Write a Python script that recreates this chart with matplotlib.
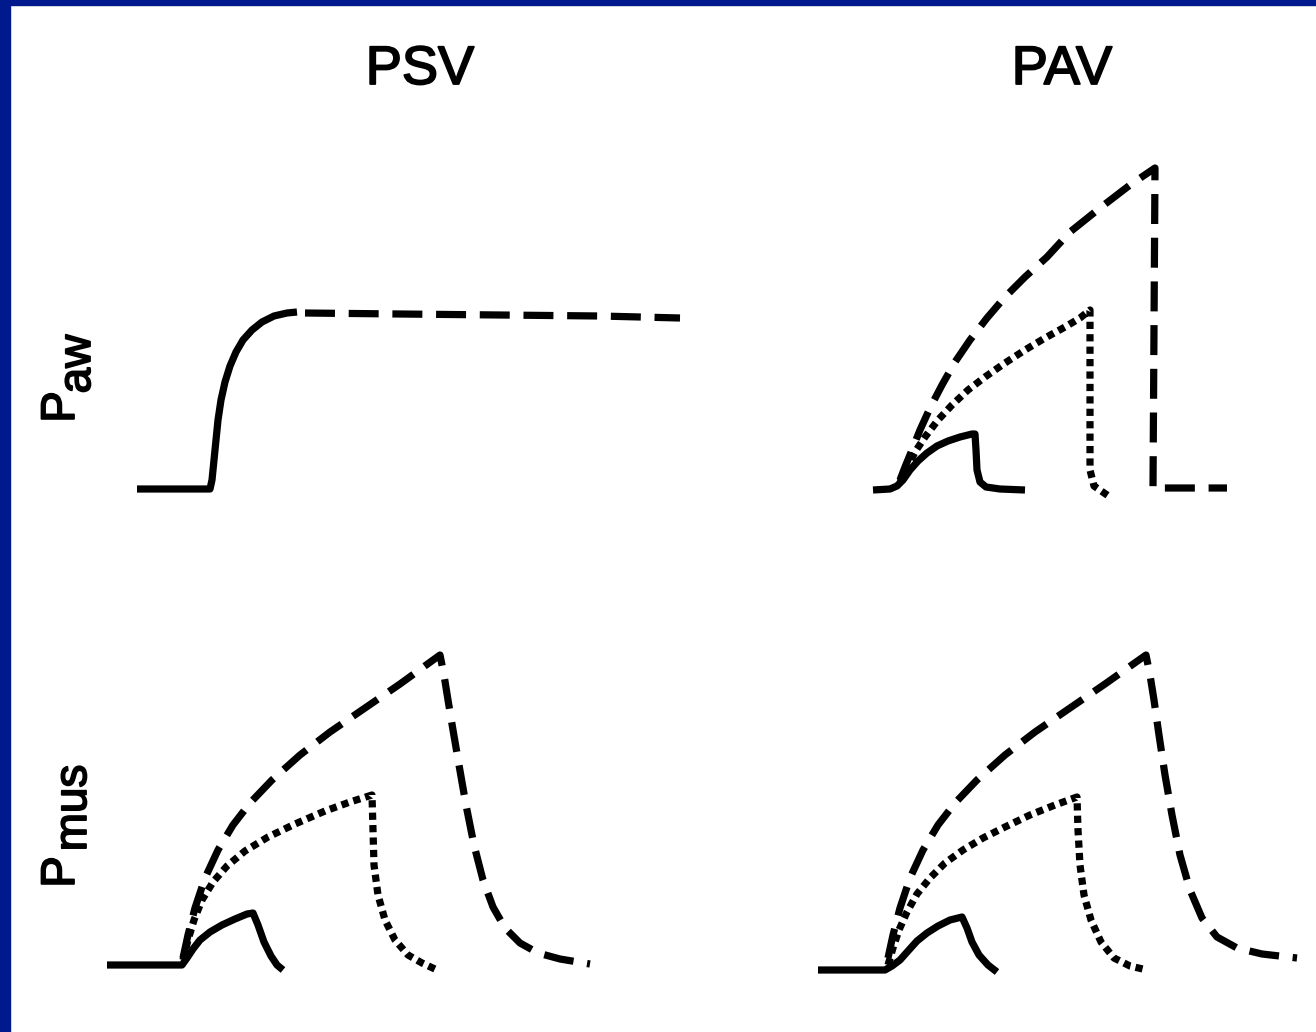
import matplotlib
matplotlib.use('Agg')
import matplotlib.pyplot as plt
import matplotlib.patheffects as pe
from matplotlib.patches import Rectangle

W, H = 1316, 1032

# waveforms: (time, pressure) in arbitrary units, baseline pressure = 0
psv_paw_solid_t = [37, 110, 112, 114, 116, 118, 121, 125, 130, 136, 143, 152, 162, 174, 187, 197]
psv_paw_solid_p = [1, 1, 10, 30, 50, 70, 90, 108, 124, 138, 150, 160, 168, 174, 177, 178]
psv_paw_dash_t = [205, 300, 400, 500, 580]
psv_paw_dash_p = [177, 176, 175, 174, 172]

pav_paw_solid_t = [93, 110, 117, 123, 130, 138, 147, 157, 168, 180, 192, 195, 196, 197, 200, 206, 220, 245]
pav_paw_solid_p = [0, 1, 4, 10, 20, 29, 37, 44, 49, 53, 56, 56, 40, 20, 8, 3, 1, 0]
pav_paw_dot_t = [120, 127, 135, 145, 158, 172, 188, 205, 225, 245, 265, 285, 300, 310, 310, 314, 330]
pav_paw_dot_p = [8, 22, 38, 53, 70, 85, 100, 113, 127, 140, 152, 163, 172, 180, 20, 4, -7]
pav_paw_dash_t = [120, 125, 132, 140, 150, 162, 175, 190, 207, 225, 245, 267, 290, 320, 350, 375, 373, 447]
pav_paw_dash_p = [10, 23, 40, 60, 82, 105, 128, 150, 172, 193, 213, 233, 258, 282, 305, 322, 2, 2]

psv_pmus_solid_t = [7, 82, 87, 93, 100, 110, 122, 135, 147, 153, 158, 164, 171, 177, 183]
psv_pmus_solid_p = [5, 5, 12, 21, 30, 38, 45, 51, 56, 57, 45, 28, 14, 5, 0]
psv_pmus_dot_t = [83, 88, 94, 102, 113, 127, 145, 168, 195, 225, 250, 272,
                  273, 274, 278, 285, 295, 308, 322, 337]
psv_pmus_dot_p = [10, 30, 50, 70, 88, 104, 119, 133, 146, 159, 168, 175,
                  140, 105, 75, 50, 30, 15, 7, 0]
psv_pmus_dash_t = [83, 88, 95, 105, 118, 133, 150, 172, 200, 230, 265, 300, 340,
                   344, 348, 353, 359, 366, 374, 383, 393, 405, 420, 438, 460, 490]
psv_pmus_dash_p = [12, 35, 62, 92, 120, 145, 167, 190, 215, 238, 262, 286, 315,
                   295, 270, 240, 205, 165, 125, 90, 63, 42, 27, 17, 11, 6]

pav_pmus_solid_t = [38, 105, 112, 120, 128, 137, 147, 158, 170, 182, 187, 192, 199, 208, 217]
pav_pmus_solid_p = [0, 0, 4, 10, 19, 29, 37, 44, 50, 53, 42, 28, 15, 5, -2]
pav_pmus_dot_t = [108, 113, 119, 127, 137, 150, 165, 183, 203, 225, 250, 275, 297,
                  298, 300, 304, 311, 321, 334, 350, 367]
pav_pmus_dot_p = [5, 22, 40, 58, 76, 92, 107, 120, 132, 143, 155, 165, 173,
                  140, 105, 75, 50, 28, 12, 4, 0]
pav_pmus_dash_t = [108, 113, 120, 130, 143, 158, 175, 197, 225, 255, 290, 325, 366,
                   370, 374, 379, 385, 392, 400, 410, 422, 437, 457, 482, 517]
pav_pmus_dash_p = [12, 35, 62, 92, 120, 145, 167, 190, 215, 238, 262, 286, 315,
                   295, 270, 235, 195, 155, 115, 80, 52, 33, 22, 16, 12]

col_titles = ['PSV', 'PAV']
row_labels = [('P', 'aw'), ('P', 'mus')]

LW = 5.2
DASH = (4.15, 1.9)
DOT = (1.0, 0.72)

fig = plt.figure(figsize=(W / 100, H / 100), dpi=100)
fig.patch.set_facecolor('white')

# slide frame (blue strips on the left and top edges)
blue = '#001a8e'
fig.patches.append(Rectangle((0, 0), 10 / W, 1, transform=fig.transFigure, color=blue, zorder=0))
fig.patches.append(Rectangle((0, 1 - 5 / H), 1, 5 / H, transform=fig.transFigure, color=blue, zorder=0))


def panel(left, top, width, height, baseline):
    # axes placed in pixel units; 1 data unit = 1 pixel
    ax = fig.add_axes([left / W, 1 - (top + height) / H, width / W, height / H])
    ax.set_xlim(0, width)
    ax.set_ylim(-(top + height - baseline), baseline - top)
    ax.axis('off')
    return ax


def trace(ax, t, p, style):
    line, = ax.plot(t, p, color='black', lw=LW, solid_capstyle='butt',
                    dash_capstyle='butt', solid_joinstyle='round', dash_joinstyle='round')
    if style == 'dash':
        line.set_dashes(DASH)
    elif style == 'dot':
        line.set_dashes(DOT)
    return line


ax1 = panel(100, 130, 600, 390, 490)
trace(ax1, psv_paw_solid_t, psv_paw_solid_p, 'solid')
trace(ax1, psv_paw_dash_t, psv_paw_dash_p, 'dash')

ax2 = panel(780, 130, 536, 390, 490)
trace(ax2, pav_paw_solid_t, pav_paw_solid_p, 'solid')
trace(ax2, pav_paw_dot_t, pav_paw_dot_p, 'dot')
trace(ax2, pav_paw_dash_t, pav_paw_dash_p, 'dash')

ax3 = panel(100, 610, 600, 390, 970)
trace(ax3, psv_pmus_solid_t, psv_pmus_solid_p, 'solid')
trace(ax3, psv_pmus_dot_t, psv_pmus_dot_p, 'dot')
trace(ax3, psv_pmus_dash_t, psv_pmus_dash_p, 'dash')

ax4 = panel(780, 610, 536, 390, 970)
trace(ax4, pav_pmus_solid_t, pav_pmus_solid_p, 'solid')
trace(ax4, pav_pmus_dot_t, pav_pmus_dot_p, 'dot')
trace(ax4, pav_pmus_dash_t, pav_pmus_dash_p, 'dash')

font = 'Liberation Sans'
heavy = [pe.withStroke(linewidth=1.3, foreground='black')]
for x, title in zip([420, 1062], col_titles):
    fig.text(x / W, 1 - 70 / H, title, ha='center', va='center', fontsize=39, family=font,
             path_effects=heavy)

# rotated row labels: main letter plus a lowered subscript
label_pos = [((84, 407), (100, 364)), ((84, 872), (96, 808))]
for (main, sub), ((mx, my), (sx, sy)) in zip(row_labels, label_pos):
    fig.text(mx / W, 1 - my / H, main, rotation=90, ha='right', va='center', fontsize=34,
             family=font, path_effects=heavy)
    fig.text(sx / W, 1 - sy / H, sub, rotation=90, ha='right', va='center', fontsize=33,
             family=font, path_effects=heavy)

fig.savefig('out.png', dpi=100, facecolor=fig.get_facecolor())
